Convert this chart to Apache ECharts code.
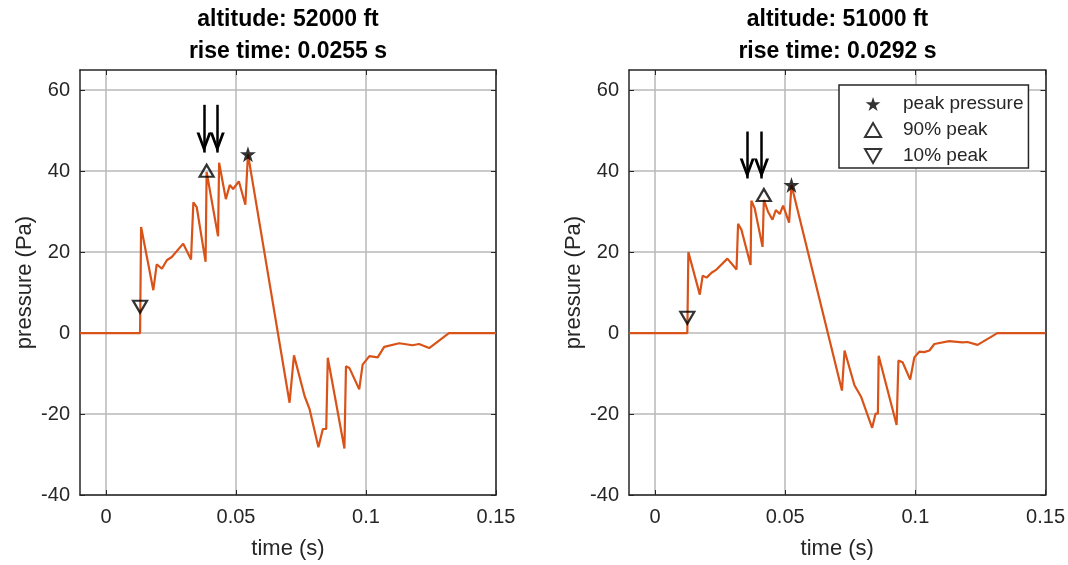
<!DOCTYPE html>
<html>
<head>
<meta charset="utf-8">
<script src="https://cdn.jsdelivr.net/npm/echarts@6/dist/echarts.min.js"></script>
<style>
  html, body { margin: 0; padding: 0; background: #fff; }
  #chart { width: 1068px; height: 565px; }
</style>
</head>
<body>
<div id="chart"></div>
<script>
// ---------------- data ----------------
const panelTitles = ['altitude: 52000 ft', 'altitude: 51000 ft'];
const riseTimes = ['rise time: 0.0255 s', 'rise time: 0.0292 s'];
const xTicks = [0, 0.05, 0.1, 0.15];
const yTicks = [-40, -20, 0, 20, 40, 60];

// panel 1 (52000 ft)
const time1 = [-0.01, 0.0131, 0.0135, 0.0182, 0.0195, 0.0215, 0.0234, 0.0253, 0.0297, 0.0327, 0.0336, 0.0349, 0.0383, 0.0387, 0.0431, 0.0435, 0.0461, 0.0476, 0.0489, 0.0511, 0.0536, 0.0546, 0.0706, 0.0723, 0.0764, 0.0783, 0.0817, 0.0834, 0.0847, 0.0853, 0.0917, 0.0923, 0.0936, 0.0974, 0.0987, 0.1013, 0.1045, 0.107, 0.1128, 0.1179, 0.1204, 0.1243, 0.1319, 0.15];
const pressure1 = [0, 0, 26.2, 10.6, 17.0, 15.9, 18.0, 18.8, 22.1, 18.2, 32.3, 31.1, 17.6, 39.8, 23.9, 42.1, 33.1, 36.6, 35.6, 37.5, 31.7, 44.2, -17.2, -5.5, -15.6, -18.8, -28.2, -23.7, -23.7, -6.1, -28.5, -8.2, -8.6, -13.9, -7.8, -5.7, -6.0, -3.4, -2.5, -3.0, -2.7, -3.7, 0, 0];
const peak1 = [0.0546, 44.2];
const p90_1 = [0.0387, 40.1];
const p10_1 = [0.0131, 6.5];
const arrowX1 = [0.0377, 0.0428];
const arrowFrom1 = 56.4;
const arrowTip1 = 44.6;

// panel 2 (51000 ft)
const time2 = [-0.01, 0.0124, 0.0128, 0.0172, 0.0183, 0.0198, 0.0217, 0.0236, 0.0278, 0.0313, 0.0319, 0.0332, 0.0367, 0.037, 0.0383, 0.0413, 0.0418, 0.0434, 0.0451, 0.0464, 0.0479, 0.0492, 0.0515, 0.0524, 0.0718, 0.0728, 0.0766, 0.0792, 0.0834, 0.0847, 0.0856, 0.0859, 0.0928, 0.0935, 0.0951, 0.098, 0.0996, 0.1015, 0.1034, 0.1054, 0.1073, 0.113, 0.1181, 0.12, 0.1239, 0.1315, 0.15];
const pressure2 = [0, 0, 20.0, 9.5, 14.2, 13.7, 14.9, 15.7, 18.4, 15.7, 27.0, 25.5, 16.8, 32.7, 30.8, 21.3, 32.9, 30.0, 28.0, 30.4, 29.4, 31.5, 27.3, 36.6, -14.2, -4.3, -12.9, -15.8, -23.4, -19.9, -19.9, -5.6, -22.7, -6.8, -7.2, -11.5, -6.0, -4.6, -4.7, -4.3, -2.7, -2.0, -2.3, -2.2, -2.9, 0, 0];
const peak2 = [0.0524, 36.6];
const p90_2 = [0.0418, 34.1];
const p10_2 = [0.0124, 3.8];
const arrowX2 = [0.0354, 0.0409];
const arrowFrom2 = 49.8;
const arrowTip2 = 38.2;

const legendNames = ['peak pressure', '90% peak', '10% peak'];

// ---------------- styling ----------------
const FONT = "'Liberation Sans', Arial, Helvetica, sans-serif";
const AX = '#262626';
const GRIDC = '#b8b8b8';
const ORANGE = '#D95319';
const STAR = 'path://M50,0 L61.2,34.5 L97.6,34.5 L68.2,55.9 L79.4,90.5 L50,69.1 L20.6,90.5 L31.8,55.9 L2.4,34.5 L38.8,34.5 Z';
const TRI_UP = 'path://M50,0 L100,87 L0,87 Z';
const TRI_DOWN = 'path://M0,0 L100,0 L50,87 Z';
const CHEVRON = 'path://M50,0 L100,100 L80,100 L50,38 L20,100 L0,100 Z';
const ARROW_H = 20;

const grids = [
  { left: 80, top: 70, width: 416, height: 427 },
  { left: 629, top: 70, width: 417, height: 427 }
];
const titleCenters = [288, 837.5];

function zip(a, b) { return a.map((v, i) => [v, b[i]]); }

const xAxes = [], yAxes = [];
grids.forEach((g, gi) => {
  xAxes.push({
    type: 'value', gridIndex: gi, min: -0.01, max: 0.15, position: 'bottom',
    name: 'time (s)', nameLocation: 'middle', nameGap: 43,
    nameTextStyle: { fontSize: 22, color: AX, fontFamily: FONT },
    axisLine: { show: true, onZero: false, lineStyle: { color: AX, width: 1.5 } },
    axisTick: { show: true, inside: true, length: 5, customValues: xTicks, lineStyle: { color: AX } },
    axisLabel: { show: true, customValues: xTicks, fontSize: 20, color: AX, fontFamily: FONT, margin: 12,
                 formatter: v => String(+v.toFixed(4)) },
    splitLine: { show: true, lineStyle: { color: GRIDC, width: 1.5 } }
  });
  xAxes.push({
    type: 'value', gridIndex: gi, min: -0.01, max: 0.15, position: 'top',
    axisLine: { show: true, onZero: false, lineStyle: { color: AX, width: 1.5 } },
    axisTick: { show: true, inside: true, length: 5, customValues: xTicks, lineStyle: { color: AX } },
    axisLabel: { show: false }, splitLine: { show: false }
  });
  yAxes.push({
    type: 'value', gridIndex: gi, min: -40, max: 65, position: 'left',
    name: 'pressure (Pa)', nameLocation: 'middle', nameGap: 44,
    nameTextStyle: { fontSize: 22, color: AX, fontFamily: FONT },
    axisLine: { show: true, onZero: false, lineStyle: { color: AX, width: 1.5 } },
    axisTick: { show: true, inside: true, length: 5, customValues: yTicks, lineStyle: { color: AX } },
    axisLabel: { show: true, customValues: yTicks, fontSize: 20, color: AX, fontFamily: FONT, margin: 10 },
    splitLine: { show: true, lineStyle: { color: GRIDC, width: 1.5 } }
  });
  yAxes.push({
    type: 'value', gridIndex: gi, min: -40, max: 65, position: 'right',
    axisLine: { show: true, onZero: false, lineStyle: { color: AX, width: 1.5 } },
    axisTick: { show: true, inside: true, length: 5, customValues: yTicks, lineStyle: { color: AX } },
    axisLabel: { show: false }, splitLine: { show: false }
  });
});

const panels = [
  { t: time1, p: pressure1, peak: peak1, p90: p90_1, p10: p10_1, ax: arrowX1, af: arrowFrom1, at: arrowTip1 },
  { t: time2, p: pressure2, peak: peak2, p90: p90_2, p10: p10_2, ax: arrowX2, af: arrowFrom2, at: arrowTip2 }
];

const series = [];
panels.forEach((pn, gi) => {
  const xi = gi * 2, yi = gi * 2;
  series.push({
    type: 'line', name: 'signal' + gi, xAxisIndex: xi, yAxisIndex: yi,
    data: zip(pn.t, pn.p), showSymbol: false, symbol: 'none',
    lineStyle: { color: ORANGE, width: 2.2 }, itemStyle: { color: ORANGE },
    z: 3, animation: false,
    markLine: {
      silent: true, animation: false,
      symbol: ['none', CHEVRON], symbolSize: [15, ARROW_H],
      symbolOffset: [0, [0, ARROW_H / 2]],
      label: { show: false },
      lineStyle: { color: '#000', width: 2.5, type: 'solid', cap: 'butt' },
      data: pn.ax.map(x => [{ coord: [x, pn.af] }, { coord: [x, pn.at] }])
    }
  });
  series.push({
    type: 'scatter', name: legendNames[0], xAxisIndex: xi, yAxisIndex: yi,
    data: [pn.peak], symbol: STAR, symbolSize: 16,
    itemStyle: { color: '#000' }, z: 5, animation: false
  });
  series.push({
    type: 'scatter', name: legendNames[1], xAxisIndex: xi, yAxisIndex: yi,
    data: [pn.p90], symbol: TRI_UP, symbolSize: [14, 12],
    itemStyle: { color: 'rgba(0,0,0,0)', borderColor: '#000', borderWidth: 2.2 }, z: 5, animation: false
  });
  series.push({
    type: 'scatter', name: legendNames[2], xAxisIndex: xi, yAxisIndex: yi,
    data: [pn.p10], symbol: TRI_DOWN, symbolSize: [14, 12],
    itemStyle: { color: 'rgba(0,0,0,0)', borderColor: '#000', borderWidth: 2.2 }, z: 5, animation: false
  });
});

const option = {
  animation: false,
  backgroundColor: '#fff',
  textStyle: { fontFamily: FONT },
  title: panelTitles.map((t, i) => ({
    text: t + '\n' + riseTimes[i],
    left: titleCenters[i], top: 4, textAlign: 'center', padding: 0,
    textStyle: { fontSize: 23, fontWeight: 'bold', lineHeight: 32, color: '#000', fontFamily: FONT }
  })),
  legend: {
    orient: 'vertical', left: 839, top: 85, padding: [9, 5, 2, 25],
    itemGap: 6, itemWidth: 50, itemHeight: 14, selectedMode: false,
    backgroundColor: '#fff', borderColor: AX, borderWidth: 1.5,
    textStyle: { fontSize: 19, color: AX, lineHeight: 20, fontFamily: FONT },
    data: [
      { name: legendNames[0], icon: STAR, itemStyle: { color: '#000', borderWidth: 0 } },
      { name: legendNames[1], icon: TRI_UP, itemStyle: { color: 'rgba(0,0,0,0)', borderColor: '#000', borderWidth: 2 } },
      { name: legendNames[2], icon: TRI_DOWN, itemStyle: { color: 'rgba(0,0,0,0)', borderColor: '#000', borderWidth: 2 } }
    ]
  },
  grid: grids,
  xAxis: xAxes,
  yAxis: yAxes,
  series: series
};

const chart = echarts.init(document.getElementById('chart'), null, { renderer: 'canvas' });
chart.setOption(option);
</script>
</body>
</html>
